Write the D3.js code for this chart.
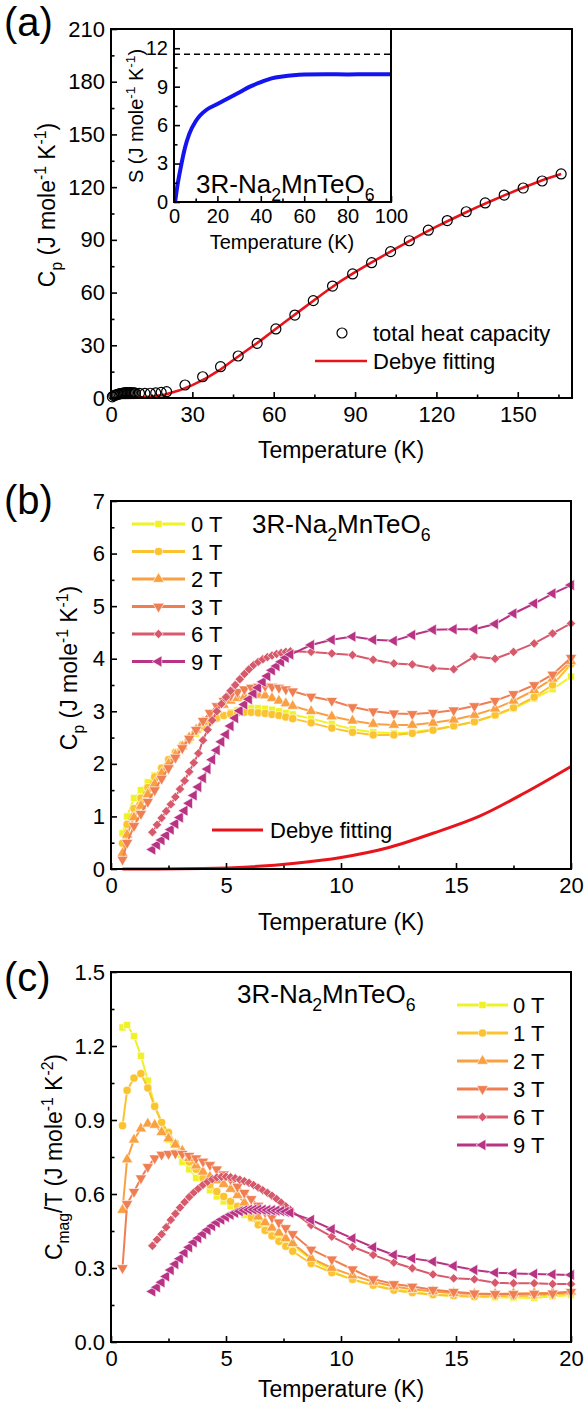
<!DOCTYPE html>
<html>
<head>
<meta charset="utf-8">
<script src="https://cdn.jsdelivr.net/npm/d3@7"></script>
<style>
  body { margin: 0; background: #fff; }
  svg { display: block; }
</style>
</head>
<body>
<div id="chart"></div>
<script>
const FONT = "Arial, 'Liberation Sans', sans-serif";

// ---- panel (a): total heat capacity + Debye fit ----
const totalT  = [0.5,1,1.5,2,2.5,3,3.5,4,4.5,5,5.5,6,6.5,7,7.5,8,8.5,9,10.5,12.5,14.5,16.5,18.5,20.5,27.3,33.8,40.4,46.9,53.9,60.8,67.8,74.6,81.7,89.1,96.1,103.1,110,117,124,131,138,145,152,159,166];
const totalCp = [0.68,1.35,1.6,1.8,2.05,2.3,2.5,2.68,2.85,2.95,3.02,3.05,3.06,3.05,3.0,2.95,2.9,2.8,2.66,2.6,2.7,2.9,3.2,3.6,7.4,12.1,17.8,23.9,31.1,39.3,47.2,55.4,63.7,70.6,77.0,83.3,89.5,95.5,101,106,111,115.5,119.5,123.5,127.5];
const debyeT  = [0,5,10,15,20,25,30,35,40,45,50,55,60,65,70,75,80,85,90,95,100,105,110,115,120,125,130,135,140,145,150,155,160,166];
const debyeCp = [0,0.03,0.24,0.82,1.95,4.2,7.3,11.2,15.8,21.5,27,32.5,38.4,44.2,50,55.8,61.5,66.8,71.6,76.2,80.6,85,89.3,93.5,97.5,101.3,105,108.6,112,115.3,118.5,121.5,124.5,127.5];

// inset: entropy
const entropyT = [0.5,1.5,3,5,7,10,12,15,20,25,30,35,40,45,50,55,60,70,80,90,100];
const entropyS = [0,1.2,2.6,4.2,5.3,6.3,6.75,7.2,7.65,8.1,8.55,9.0,9.35,9.65,9.8,9.9,9.95,9.97,9.95,9.97,9.97];
const entropyLimit = 11.53;

// ---- panels (b), (c): field dependence ----
const fields = ["0 T", "1 T", "2 T", "3 T", "6 T", "9 T"];
const fieldColors = ["#eef227", "#fbc330", "#f9a043", "#ef7f52", "#d75a6c", "#b93384"];

const tLow  = [0.5,0.7,1.0,1.3,1.6,1.9,2.2,2.5,2.8,3.1,3.4,3.7,4.0,4.3,4.6,4.9,5.2,5.5,5.8,6.1,6.4,6.7,7.0,7.3,7.6,7.9,8.7,9.6,10.5,11.4,12.3,13.1,14.0,14.9,15.8,16.7,17.5,18.4,19.2,20.0];
const tHigh = [1.8,2.0,2.2,2.4,2.6,2.8,3.0,3.2,3.4,3.6,3.8,4.0,4.2,4.4,4.6,4.8,5.0,5.2,5.4,5.6,5.8,6.0,6.2,6.4,6.6,6.8,7.0,7.2,7.4,7.6,7.8,8.7,9.6,10.5,11.4,12.3,13.1,14.0,14.9,15.8,16.7,17.5,18.4,19.2,20.0];

const cp0T = [0.68,1.0,1.35,1.5,1.65,1.78,1.92,2.05,2.2,2.33,2.45,2.57,2.68,2.78,2.86,2.93,2.98,3.02,3.05,3.06,3.06,3.05,3.03,3.0,2.97,2.94,2.86,2.76,2.66,2.6,2.58,2.6,2.66,2.72,2.8,2.92,3.05,3.24,3.42,3.66];
const cp1T = [0.49,0.85,1.15,1.35,1.55,1.75,1.92,2.08,2.22,2.36,2.5,2.62,2.72,2.8,2.87,2.92,2.95,2.97,2.98,2.98,2.97,2.96,2.94,2.92,2.89,2.86,2.78,2.68,2.6,2.55,2.55,2.58,2.64,2.72,2.8,2.93,3.07,3.27,3.5,3.9];
const cp2T = [0.3,0.65,0.98,1.2,1.42,1.62,1.82,2.0,2.17,2.33,2.5,2.65,2.8,2.92,3.03,3.12,3.2,3.25,3.28,3.3,3.31,3.3,3.25,3.2,3.15,3.1,3.0,2.9,2.82,2.76,2.74,2.74,2.78,2.84,2.93,3.05,3.2,3.4,3.62,3.95];
const cp3T = [0.18,0.5,0.82,1.05,1.28,1.5,1.72,1.92,2.12,2.3,2.48,2.65,2.82,2.97,3.1,3.2,3.3,3.37,3.42,3.45,3.47,3.48,3.47,3.45,3.42,3.38,3.28,3.2,3.08,3.0,2.96,2.95,2.97,3.02,3.1,3.2,3.33,3.5,3.7,4.02];
const cp6T = [0.7,0.84,0.97,1.1,1.23,1.37,1.52,1.68,1.85,2.02,2.2,2.45,2.65,2.83,3.0,3.14,3.27,3.39,3.5,3.61,3.71,3.8,3.88,3.94,3.99,4.03,4.06,4.09,4.11,4.13,4.14,4.13,4.1,4.07,3.98,3.91,3.89,3.82,3.8,4.04,4.0,4.13,4.29,4.48,4.67];
const cp9T = [0.37,0.46,0.55,0.64,0.75,0.86,0.98,1.11,1.25,1.4,1.56,1.73,1.9,2.08,2.26,2.42,2.56,2.72,2.87,3.01,3.13,3.23,3.34,3.45,3.56,3.67,3.78,3.86,3.94,4.02,4.08,4.26,4.36,4.42,4.36,4.34,4.45,4.55,4.56,4.56,4.66,4.86,5.05,5.24,5.4];

const debyeLowT  = [0.5,2,4,6,8,10,12,14,16,18,20];
const debyeLowCp = [0,0.002,0.01,0.04,0.11,0.22,0.4,0.68,1.0,1.45,1.95];

const cm0T = [1.275,1.285,1.24,1.16,1.06,0.96,0.89,0.82,0.77,0.73,0.70,0.665,0.64,0.615,0.59,0.57,0.55,0.535,0.515,0.5,0.485,0.47,0.452,0.43,0.41,0.39,0.335,0.288,0.252,0.23,0.214,0.204,0.192,0.186,0.182,0.181,0.18,0.178,0.185,0.19];
const cm1T = [0.877,1.02,1.07,1.088,1.03,0.955,0.89,0.85,0.805,0.77,0.73,0.7,0.665,0.637,0.61,0.59,0.57,0.55,0.53,0.505,0.475,0.452,0.43,0.408,0.388,0.368,0.318,0.281,0.254,0.23,0.21,0.2,0.192,0.188,0.184,0.186,0.186,0.188,0.193,0.197];
const cm2T = [0.535,0.74,0.82,0.865,0.885,0.88,0.85,0.825,0.8,0.775,0.745,0.715,0.69,0.67,0.655,0.64,0.62,0.595,0.565,0.537,0.508,0.485,0.463,0.443,0.42,0.4,0.34,0.3,0.27,0.244,0.225,0.214,0.205,0.198,0.195,0.195,0.197,0.198,0.2,0.204];
const cm3T = [0.3,0.56,0.609,0.664,0.71,0.745,0.76,0.763,0.765,0.763,0.755,0.745,0.732,0.718,0.7,0.68,0.66,0.63,0.605,0.58,0.553,0.527,0.505,0.485,0.462,0.438,0.375,0.335,0.295,0.255,0.235,0.225,0.212,0.204,0.197,0.195,0.195,0.196,0.197,0.204];
const cm6T = [0.39,0.415,0.437,0.465,0.495,0.52,0.545,0.567,0.588,0.606,0.622,0.637,0.65,0.66,0.667,0.67,0.67,0.668,0.664,0.658,0.652,0.645,0.636,0.626,0.615,0.605,0.593,0.58,0.565,0.55,0.535,0.474,0.427,0.386,0.353,0.322,0.299,0.274,0.258,0.254,0.24,0.238,0.238,0.235,0.235];
const cm9T = [0.205,0.222,0.242,0.266,0.292,0.316,0.338,0.362,0.384,0.404,0.421,0.438,0.454,0.47,0.484,0.496,0.507,0.516,0.524,0.53,0.534,0.536,0.537,0.537,0.536,0.535,0.534,0.533,0.531,0.528,0.524,0.495,0.457,0.42,0.384,0.353,0.339,0.326,0.308,0.292,0.281,0.278,0.276,0.274,0.272];

const cpSeries = [[tLow, cp0T], [tLow, cp1T], [tLow, cp2T], [tLow, cp3T], [tHigh, cp6T], [tHigh, cp9T]];
const cmSeries = [[tLow, cm0T], [tLow, cm1T], [tLow, cm2T], [tLow, cm3T], [tHigh, cm6T], [tHigh, cm9T]];

// marker per field: square, circle, up, down, diamond, left
const SHAPES = [
    { type: d3.symbolSquare, size: 50, rot: 0 },
    { type: d3.symbolCircle, size: 52, rot: 0 },
    { type: d3.symbolTriangle, size: 56, rot: 0 },
    { type: d3.symbolTriangle, size: 56, rot: 180 },
    { type: d3.symbolSquare, size: 44, rot: 45 },
    { type: d3.symbolTriangle, size: 56, rot: -90 },
];

const svg = d3.select("#chart").append("svg")
    .attr("width", 585)
    .attr("height", 1404)
    .style("font-family", FONT);

svg.append("rect").attr("width", 585).attr("height", 1404).attr("fill", "#fff");

// text with sub/superscripts: parts = [[str, mode]], mode 0 normal, 1 sub, 2 sup
function richText(g, parts, size) {
    const text = g.append("text").style("font-size", `${size}px`).attr("fill", "#000");
    let shift = 0;
    parts.forEach(([s, mode]) => {
        const target = mode === 1 ? size * 0.3 : mode === 2 ? -size * 0.38 : 0;
        text.append("tspan")
            .attr("dy", target - shift)
            .style("font-size", mode ? `${size * 0.68}px` : `${size}px`)
            .text(s);
        shift = target;
    });
    return text;
}

const UNIT1 = [[" (J mole", 0], ["-1", 2], [" K", 0], ["-1", 2], [")", 0]];
const COMPOUND = [["3R-Na", 0], ["2", 1], ["MnTeO", 0], ["6", 1]];

function drawAxes(g, x, y, o) {
    const [x0, x1] = x.range();
    const [y0, y1] = y.range();
    const fs = o.fontSize || 22;

    const styleAxis = sel => {
        sel.select(".domain").remove();
        sel.selectAll("line").attr("stroke", "#000").attr("stroke-width", 1.6);
        sel.selectAll("text").style("font-size", `${fs}px`).style("font-family", FONT).attr("fill", "#000");
    };

    g.append("g").attr("transform", `translate(0,${y0})`)
        .call(d3.axisBottom(x).tickValues(o.xMajor).tickSizeInner(-6).tickSizeOuter(0).tickPadding(o.xPad || 8.5)
            .tickFormat(o.xFormat || d3.format("d")))
        .call(styleAxis);
    g.append("g").attr("transform", `translate(0,${y0})`)
        .call(d3.axisBottom(x).tickValues(o.xMinor).tickSizeInner(-3.5).tickSizeOuter(0).tickFormat(""))
        .call(styleAxis);
    g.append("g").attr("transform", `translate(${x0},0)`)
        .call(d3.axisLeft(y).tickValues(o.yMajor).tickSizeInner(-6).tickSizeOuter(0).tickPadding(6)
            .tickFormat(o.yFormat || d3.format("d")))
        .call(styleAxis);
    g.append("g").attr("transform", `translate(${x0},0)`)
        .call(d3.axisLeft(y).tickValues(o.yMinor).tickSizeInner(-3.5).tickSizeOuter(0).tickFormat(""))
        .call(styleAxis);

    g.append("rect")
        .attr("x", x0).attr("y", y1)
        .attr("width", x1 - x0).attr("height", y0 - y1)
        .attr("fill", "none").attr("stroke", "#000").attr("stroke-width", 2);
}

function xTitle(g, cx, baseline, size) {
    g.append("text")
        .attr("x", cx).attr("y", baseline)
        .attr("text-anchor", "middle")
        .style("font-size", `${size}px`)
        .text("Temperature (K)");
}

function yTitle(g, parts, bx, cy, size) {
    richText(g.append("g").attr("transform", `translate(${bx},${cy}) rotate(-90)`), parts, size)
        .attr("text-anchor", "middle");
}

function panelLetter(label, baseline) {
    svg.append("text").attr("x", 4).attr("y", baseline)
        .style("font-size", "40px").text(label);
}

function marker(g, cx, cy, shape, color) {
    g.append("path")
        .attr("transform", `translate(${cx},${cy}) rotate(${shape.rot})`)
        .attr("d", d3.symbol(shape.type, shape.size)())
        .attr("fill", color)
        .attr("stroke", "#fff")
        .attr("stroke-width", 0.6);
}

function drawField(g, x, y, ts, vs, color, shape) {
    const pts = ts.map((t, i) => [t, vs[i]]);
    g.append("path").datum(pts)
        .attr("d", d3.line().x(d => x(d[0])).y(d => y(d[1])))
        .attr("fill", "none").attr("stroke", color).attr("stroke-width", 2);
    pts.forEach(d => marker(g, x(d[0]), y(d[1]), shape, color));
}

function fieldLegend(g, x0, x1, yStart, step, tx) {
    fields.forEach((f, i) => {
        const yy = yStart + i * step;
        g.append("line").attr("x1", x0).attr("x2", x1).attr("y1", yy).attr("y2", yy)
            .attr("stroke", fieldColors[i]).attr("stroke-width", 3);
        marker(g, (x0 + x1) / 2, yy, SHAPES[i], fieldColors[i]);
        g.append("text").attr("x", tx).attr("y", yy + 8).style("font-size", "22px").text(f);
    });
}

// ================= panel (a) =================
{
    const g = svg.append("g");
    const x = d3.scaleLinear().domain([0, 170]).range([111, 572]);
    const y = d3.scaleLinear().domain([0, 210]).range([398, 29]);

    g.append("path").datum(debyeT.map((t, i) => [t, debyeCp[i]]))
        .attr("d", d3.line().x(d => x(d[0])).y(d => y(d[1])))
        .attr("fill", "none").attr("stroke", "#e8141c").attr("stroke-width", 2.6);

    g.selectAll(".total").data(totalT.map((t, i) => [t, totalCp[i]]))
        .join("circle")
        .attr("cx", d => x(d[0])).attr("cy", d => y(d[1])).attr("r", 5)
        .attr("fill", "none").attr("stroke", "#000").attr("stroke-width", 1.2);

    drawAxes(g, x, y, {
        xMajor: d3.range(0, 151, 30), xMinor: d3.range(15, 170, 30),
        yMajor: d3.range(0, 211, 30), yMinor: d3.range(15, 210, 30),
    });
    xTitle(g, 341, 458, 23);
    yTitle(g, [["C", 0], ["p", 1], ...UNIT1], 55, 205, 23);

    // legend
    g.append("circle").attr("cx", 342).attr("cy", 333).attr("r", 5)
        .attr("fill", "none").attr("stroke", "#000").attr("stroke-width", 1.2);
    g.append("text").attr("x", 373).attr("y", 341).style("font-size", "22px").text("total heat capacity");
    g.append("line").attr("x1", 315).attr("x2", 367).attr("y1", 361).attr("y2", 361)
        .attr("stroke", "#e8141c").attr("stroke-width", 2.6);
    g.append("text").attr("x", 373).attr("y", 369).style("font-size", "22px").text("Debye fitting");

    // inset
    const xi = d3.scaleLinear().domain([0, 100]).range([174, 391]);
    const yi = d3.scaleLinear().domain([0, 13.5]).range([202, 29]);
    g.append("rect").attr("x", 174).attr("y", 29).attr("width", 217).attr("height", 173).attr("fill", "#fff");
    g.append("line")
        .attr("x1", xi(0)).attr("x2", xi(100))
        .attr("y1", yi(entropyLimit)).attr("y2", yi(entropyLimit))
        .attr("stroke", "#000").attr("stroke-width", 1.6).attr("stroke-dasharray", "6,4");
    g.append("path").datum(entropyT.map((t, i) => [t, entropyS[i]]))
        .attr("d", d3.line().curve(d3.curveMonotoneX).x(d => xi(d[0])).y(d => yi(d[1])))
        .attr("fill", "none").attr("stroke", "#1414f0").attr("stroke-width", 4);
    drawAxes(g, xi, yi, {
        xMajor: d3.range(0, 101, 20), xMinor: d3.range(10, 100, 20),
        yMajor: d3.range(0, 13, 3), yMinor: [1.5, 4.5, 7.5, 10.5],
        fontSize: 20, xPad: 7,
    });
    xTitle(g, 282, 249, 20);
    yTitle(g, [["S", 0], ...UNIT1], 143, 116, 20);
    richText(g.append("g").attr("transform", "translate(196,193)"), COMPOUND, 26);

    panelLetter("(a)", 36);
}

// ================= panel (b) =================
{
    const g = svg.append("g");
    const x = d3.scaleLinear().domain([0, 20]).range([111, 571]);
    const y = d3.scaleLinear().domain([0, 7]).range([869, 501]);

    g.append("path").datum(debyeLowT.map((t, i) => [t, debyeLowCp[i]]))
        .attr("d", d3.line().curve(d3.curveMonotoneX).x(d => x(d[0])).y(d => y(d[1])))
        .attr("fill", "none").attr("stroke", "#e8141c").attr("stroke-width", 3);

    cpSeries.forEach(([ts, vs], i) => drawField(g, x, y, ts, vs, fieldColors[i], SHAPES[i]));

    drawAxes(g, x, y, {
        xMajor: [0, 5, 10, 15, 20], xMinor: [2.5, 7.5, 12.5, 17.5],
        yMajor: d3.range(0, 8), yMinor: d3.range(0.5, 7, 1),
    });
    xTitle(g, 341, 930, 23);
    yTitle(g, [["C", 0], ["p", 1], ...UNIT1], 77, 668, 23);

    fieldLegend(g, 132, 185, 524, 27.5, 191);
    richText(g.append("g").attr("transform", "translate(252,533)"), COMPOUND, 26);

    g.append("line").attr("x1", 212).attr("x2", 263).attr("y1", 830).attr("y2", 830)
        .attr("stroke", "#e8141c").attr("stroke-width", 3);
    g.append("text").attr("x", 270).attr("y", 838).style("font-size", "22px").text("Debye fitting");

    panelLetter("(b)", 514);
}

// ================= panel (c) =================
{
    const g = svg.append("g");
    const x = d3.scaleLinear().domain([0, 20]).range([111, 571]);
    const y = d3.scaleLinear().domain([0, 1.5]).range([1342, 972]);

    cmSeries.forEach(([ts, vs], i) => drawField(g, x, y, ts, vs, fieldColors[i], SHAPES[i]));

    drawAxes(g, x, y, {
        xMajor: [0, 5, 10, 15, 20], xMinor: [2.5, 7.5, 12.5, 17.5],
        yMajor: [0, 0.3, 0.6, 0.9, 1.2, 1.5], yMinor: [0.15, 0.45, 0.75, 1.05, 1.35],
        yFormat: d3.format(".1f"),
    });
    xTitle(g, 341, 1397, 23);
    yTitle(g, [["C", 0], ["mag", 1], ["/T (J mole", 0], ["-1", 2], [" K", 0], ["-2", 2], [")", 0]], 62, 1157, 23);

    fieldLegend(g, 457, 508, 1005, 28, 513);
    richText(g.append("g").attr("transform", "translate(237,1003)"), COMPOUND, 26);

    panelLetter("(c)", 991);
}
</script>
</body>
</html>
